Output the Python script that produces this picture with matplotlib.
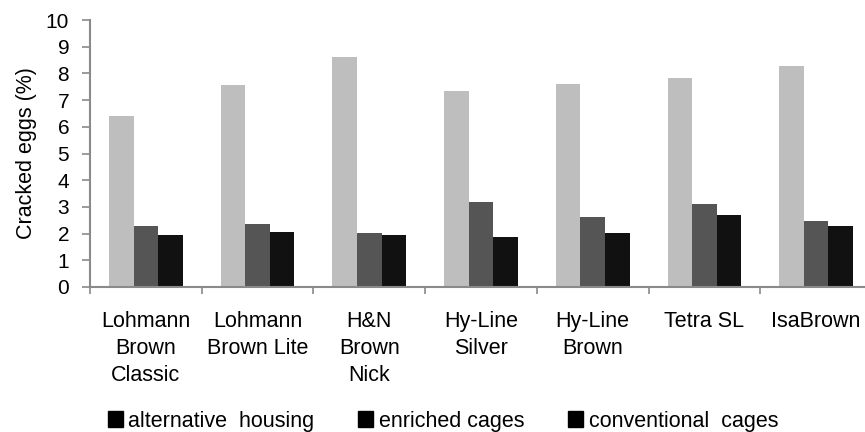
import matplotlib.pyplot as plt
from matplotlib.patches import Patch
import numpy as np

plt.rcParams['font.family'] = ['Liberation Sans', 'DejaVu Sans']

breeds = ['Lohmann\nBrown\nClassic', 'Lohmann\nBrown Lite', 'H&N\nBrown\nNick',
          'Hy-Line\nSilver', 'Hy-Line\nBrown', 'Tetra SL', 'IsaBrown']
alternative = [6.4, 7.55, 8.63, 7.35, 7.6, 7.83, 8.28]
enriched = [2.3, 2.35, 2.02, 3.18, 2.62, 3.11, 2.47]
conventional = [1.93, 2.07, 1.93, 1.87, 2.02, 2.69, 2.29]
series_names = ['alternative  housing', 'enriched cages', 'conventional  cages']

colors = ['#bebebe', '#555555', '#111111']
spine_col = '#8a8a8a'

fig = plt.figure(figsize=(8.65, 4.32), dpi=100)
ax = fig.add_axes([90 / 865, 145 / 432, 782 / 865, 267 / 432])

x = np.arange(len(breeds))
w = 0.22
for i, vals in enumerate([alternative, enriched, conventional]):
    ax.bar(x + (i - 1) * w, vals, width=w, color=colors[i], linewidth=0)

ax.set_xlim(-0.5, len(breeds) - 0.5)
ax.set_ylim(0, 10)
ax.set_yticks(range(0, 11))
ax.tick_params(axis='y', labelsize=15, length=6, color=spine_col, width=1.2, pad=9)

ax.set_xticks(x)
ax.set_xticklabels(breeds, fontsize=15.5, linespacing=1.38)
ax.tick_params(axis='x', which='major', length=0, pad=17)
ax.set_xticks(np.arange(-0.5, len(breeds), 1), minor=True)
ax.tick_params(axis='x', which='minor', length=5, color=spine_col, width=1.2)

for s in ['top', 'right']:
    ax.spines[s].set_visible(False)
for s in ['left', 'bottom']:
    ax.spines[s].set_color(spine_col)
    ax.spines[s].set_linewidth(1.5)

ax.set_ylabel('Cracked eggs (%)', fontsize=15.5, labelpad=6)

# legend swatches are all black in the original figure
handles = [Patch(color='#000000') for _ in series_names]
fig.legend(handles, series_names, loc='center', bbox_to_anchor=(443 / 865, 11 / 432),
           ncol=3, frameon=False, fontsize=15.5, handlelength=0.7, handleheight=0.7,
           handletextpad=0.25, columnspacing=2.05, borderpad=0.2)

fig.savefig('out.png', dpi=100)
